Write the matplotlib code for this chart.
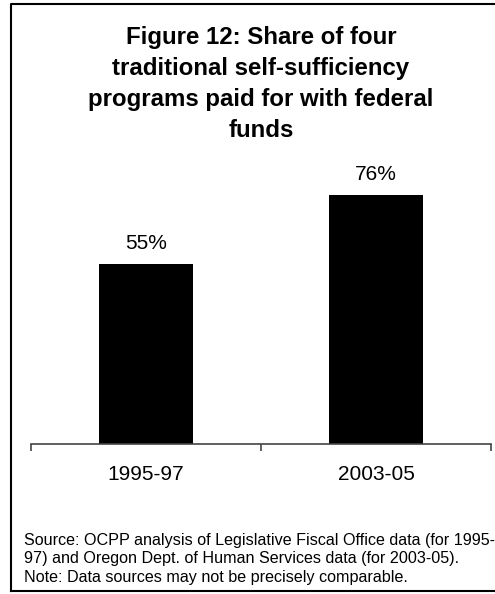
import matplotlib.pyplot as plt
from matplotlib.lines import Line2D

plt.rcParams['font.family'] = ['Liberation Sans', 'DejaVu Sans']

periods = ["1995-97", "2003-05"]
federal_share = [55, 76]
title = ("Figure 12: Share of four\ntraditional self-sufficiency\n"
         "programs paid for with federal\nfunds")
source_note = ("Source: OCPP analysis of Legislative Fiscal Office data (for 1995-\n"
               "97) and Oregon Dept. of Human Services data (for 2003-05).\n"
               "Note: Data sources may not be precisely comparable.")

W, H = 495, 594
fig = plt.figure(figsize=(W / 100, H / 100), dpi=100)

# axes in pixel terms: baseline at y=444, plot spans x=31..491
ax = fig.add_axes([31 / W, 1 - 444 / H, 460 / W, 327.5 / H])
x = range(len(periods))
ax.bar(x, federal_share, width=0.41, color="black")
for xi, v in zip(x, federal_share):
    ax.annotate(f"{v}%", (xi, v), xytext=(0, 8), textcoords="offset points",
                ha="center", va="bottom", fontsize=15)

ax.set_xlim(-0.5, 1.5)
ax.set_ylim(0, 100)
for side in ["top", "right", "left"]:
    ax.spines[side].set_visible(False)
ax.spines["bottom"].set_color("#444444")
ax.spines["bottom"].set_linewidth(1.2)
ax.set_yticks([])
ax.set_xticks([-0.5, 0.5, 1.5])
ax.set_xticklabels([])
ax.tick_params(axis="x", length=5, width=1.2, color="#444444", direction="out")
ax.set_xticks(list(x), minor=True)
ax.set_xticklabels(periods, minor=True, fontsize=15)
ax.tick_params(axis="x", which="minor", length=0, pad=15)

fig.text(261 / W, 1 - 84 / H, title, ha="center", va="center",
         fontsize=17.3, fontweight="bold", linespacing=1.43)
fig.text(24 / W, 1 - 559 / H, source_note, ha="left", va="center",
         fontsize=11.6, linespacing=1.27)

# frame around the chart area (open on the right)
lw = 1.5
fig.add_artist(Line2D([11 / W, 11 / W, 1.0], [1 - 591 / H, 1 - 4 / H, 1 - 4 / H],
                      transform=fig.transFigure, color="black", lw=lw))
fig.add_artist(Line2D([11 / W, 1.0], [1 - 591 / H, 1 - 591 / H],
                      transform=fig.transFigure, color="black", lw=lw))

fig.savefig("out.png", dpi=100)
